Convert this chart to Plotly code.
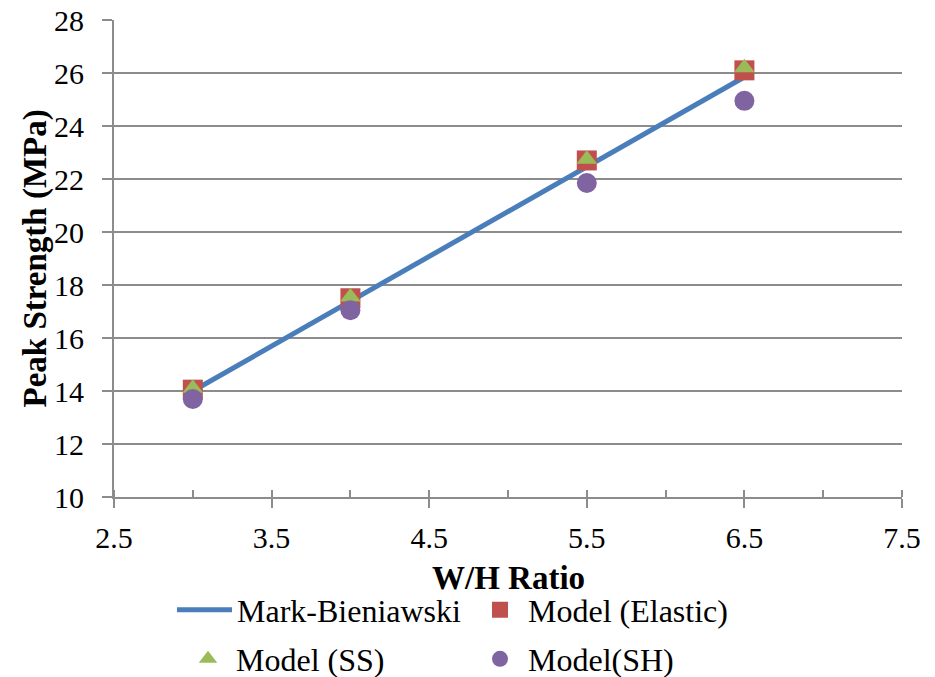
import plotly.graph_objects as go

# W/H ratios and peak strengths (MPa)
wh_ratio = [3.0, 4.0, 5.5, 6.5]
mark_bieniawski = [14.0, 17.4, 22.45, 25.85]
model_elastic = [14.05, 17.5, 22.7, 26.1]
model_ss = [14.1, 17.55, 22.75, 26.2]
model_sh = [13.7, 17.05, 21.85, 24.95]

W, H = 935, 677
ML, MR, MT, MB = 114, 33, 20, 180
PW, PH = W - ML - MR, H - MT - MB
FONT = "Liberation Serif"
GRID = "#8c8c8c"

fig = go.Figure()
fig.add_trace(go.Scatter(
    x=wh_ratio, y=mark_bieniawski, mode="lines", name="Mark-Bieniawski",
    line=dict(color="#4a7ebb", width=5), legend="legend"))
fig.add_trace(go.Scatter(
    x=wh_ratio, y=model_elastic, mode="markers", name="Model (Elastic)",
    marker=dict(symbol="square", size=20, color="#c0504d"), legend="legend2"))
fig.add_trace(go.Scatter(
    x=wh_ratio, y=model_ss, mode="markers", name="Model (SS)",
    marker=dict(symbol="triangle-up", size=18, color="#9bbb59"), legend="legend3"))
fig.add_trace(go.Scatter(
    x=wh_ratio, y=model_sh, mode="markers", name="Model(SH)",
    marker=dict(symbol="circle", size=20, color="#8064a2"), legend="legend4"))


def leg(px, py, itemwidth=30):
    return dict(
        x=px / W, y=1 - py / H, xref="container", yref="container",
        xanchor="left", yanchor="middle", itemwidth=itemwidth,
        bgcolor="rgba(0,0,0,0)", font=dict(family=FONT, size=32, color="black"),
    )


title_font = dict(family=FONT, size=33, color="black")

fig.update_layout(
    width=W, height=H,
    margin=dict(l=ML, r=MR, t=MT, b=MB, autoexpand=False),
    plot_bgcolor="white", paper_bgcolor="white",
    font=dict(family=FONT, size=30, color="black"),
    showlegend=True,
    legend=leg(172, 610, itemwidth=55),
    legend2=leg(472, 610, itemwidth=46),
    legend3=leg(180, 659, itemwidth=46),
    legend4=leg(472, 659, itemwidth=46),
    xaxis=dict(
        range=[2.5, 7.5], tickmode="linear", tick0=2.5, dtick=1,
        tickformat=".1f", automargin=False, ticklabelstandoff=4,
        showgrid=False, zeroline=False,
        showline=True, linecolor=GRID, linewidth=2,
        ticks="outside", ticklen=9, tickwidth=2, tickcolor=GRID,
        minor=dict(ticks="inside", ticklen=7, tickwidth=2, tickcolor=GRID,
                   tick0=2.5, dtick=0.5, showgrid=False),
        tickfont=dict(family=FONT, size=30, color="black"),
    ),
    yaxis=dict(
        range=[10, 28], tickmode="linear", tick0=10, dtick=2,
        automargin=False, ticklabelstandoff=12,
        showgrid=True, gridcolor=GRID, gridwidth=2, zeroline=False,
        showline=True, linecolor=GRID, linewidth=2,
        ticks="outside", ticklen=10, tickwidth=2, tickcolor=GRID,
        tickfont=dict(family=FONT, size=30, color="black"),
    ),
    annotations=[
        dict(text="<b>W/H Ratio</b>", xref="paper", yref="paper",
             x=0.5, y=-(578 - (MT + PH)) / PH, xanchor="center", yanchor="middle",
             showarrow=False, font=title_font),
        dict(text="<b>Peak Strength (MPa)</b>", xref="paper", yref="paper",
             x=-(ML - 35) / PW, y=0.5, xanchor="center", yanchor="middle",
             textangle=-90, showarrow=False, font=title_font),
    ],
)

fig.write_html("out.html")
